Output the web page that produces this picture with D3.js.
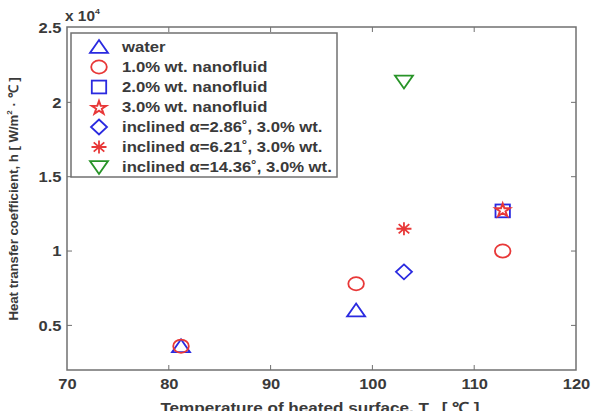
<!DOCTYPE html>
<html lang="en">
<head>
<meta charset="UTF-8">
<title>Heat transfer coefficient</title>
<script src="https://d3js.org/d3.v7.min.js"></script>
<style>
    body { margin: 0; background: #fff; }
    text { font-family: "Liberation Sans", Arial, sans-serif; fill: #3a3a3a; }
</style>
</head>
<body>
<svg width="593" height="411" id="chart"></svg>
<script>
    // data (h in units of 10^4 W/m2.C)
    const seriesNames = ["water", "1.0% wt. nanofluid", "2.0% wt. nanofluid", "3.0% wt. nanofluid",
        "inclined \u03b1=2.86\u02da, 3.0% wt.", "inclined \u03b1=6.21\u02da, 3.0% wt.", "inclined \u03b1=14.36\u02da, 3.0% wt."];
    const waterPts = [[81.2, 0.36], [98.4, 0.60]];
    const wt1Pts = [[81.2, 0.36], [98.4, 0.78], [112.8, 1.0]];
    const wt2Pts = [[112.8, 1.27]];
    const wt3Pts = [[112.8, 1.28]];
    const incl286Pts = [[103.1, 0.86]];
    const incl621Pts = [[103.1, 1.15]];
    const incl1436Pts = [[103.1, 2.14]];
    const xTicks = [70, 80, 90, 100, 110, 120];
    const yTicks = [0.5, 1, 1.5, 2, 2.5];

    const series = [
        {pts: waterPts, shape: "triUp", color: "#2a2ae0"},
        {pts: wt1Pts, shape: "circle", color: "#e83838"},
        {pts: wt2Pts, shape: "square", color: "#2a2ae0"},
        {pts: wt3Pts, shape: "star", color: "#e83838"},
        {pts: incl286Pts, shape: "diamond", color: "#2a2ae0"},
        {pts: incl621Pts, shape: "asterisk", color: "#e83838"},
        {pts: incl1436Pts, shape: "triDown", color: "#289428"}
    ];

    const svg = d3.select("#chart");
    const pLeft = 67, pRight = 576, pTop = 27, pBottom = 370;
    const stretch = 1.1;  // the picture is a bit wider than tall

    const x = d3.scaleLinear().domain([70, 120]).range([pLeft, pRight]);
    const y = d3.scaleLinear().domain([0.2, 2.5]).range([pBottom, pTop + 1]);

    // frame
    svg.append("rect")
        .attr("x", pLeft).attr("y", pTop)
        .attr("width", pRight - pLeft).attr("height", pBottom - pTop)
        .attr("fill", "none").attr("stroke", "#707070").attr("stroke-width", 1.5);

    // axes
    const xAxis = svg.append("g").attr("transform", `translate(0,${pBottom})`)
        .call(d3.axisBottom(x).tickValues(xTicks).tickSize(0).tickPadding(8));
    const yAxis = svg.append("g").attr("transform", `translate(${pLeft},0)`)
        .call(d3.axisLeft(y).tickValues(yTicks).tickSize(0).tickPadding(5).tickFormat(d3.format("")));
    [xAxis, yAxis].forEach(g => {
        g.select(".domain").remove();
        g.selectAll("text").style("font-size", "15px").style("font-weight", "bold")
            .attr("fill", "#3a3a3a").attr("transform", `scale(${stretch},1)`);
    });

    // inner ticks on all four sides
    xTicks.slice(1, -1).forEach(t => {
        svg.append("line").attr("x1", x(t)).attr("x2", x(t)).attr("y1", pBottom).attr("y2", pBottom - 5)
            .attr("stroke", "#707070");
        svg.append("line").attr("x1", x(t)).attr("x2", x(t)).attr("y1", pTop).attr("y2", pTop + 5)
            .attr("stroke", "#707070");
    });
    yTicks.slice(0, -1).forEach(t => {
        svg.append("line").attr("x1", pLeft).attr("x2", pLeft + 5).attr("y1", y(t)).attr("y2", y(t))
            .attr("stroke", "#707070");
        svg.append("line").attr("x1", pRight).attr("x2", pRight - 5).attr("y1", y(t)).attr("y2", y(t))
            .attr("stroke", "#707070");
    });

    // exponent label
    const expo = svg.append("text").attr("transform", `translate(65,21) scale(${stretch},1)`)
        .style("font-size", "14px").style("font-weight", "bold");
    expo.append("tspan").text("x 10");
    expo.append("tspan").attr("dy", -7).style("font-size", "8px").text("4");

    // axis titles
    const yl = svg.append("text")
        .attr("transform", "translate(18,199) rotate(-90)")
        .attr("text-anchor", "middle")
        .style("font-size", "13.2px").style("font-weight", "bold");
    yl.append("tspan").text("Heat transfer coefficient, h [ W/m");
    yl.append("tspan").attr("dy", -6).style("font-size", "8px").text("2");
    yl.append("tspan").attr("dy", 6).text(" \u00b7 \u2103 ]");

    const xl = svg.append("text").attr("transform", `translate(320,413) scale(1.14,1)`)
        .attr("text-anchor", "middle")
        .style("font-size", "15px").style("font-weight", "bold");
    xl.append("tspan").text("Temperature of heated surface, T");
    xl.append("tspan").attr("dy", 4).style("font-size", "9px").text("w");
    xl.append("tspan").attr("dy", -4).text("  [ \u2103 ]");

    // marker drawing (slightly wider than tall, like the reference)
    function drawMarker(g, shape, cx, cy, color) {
        const w = 9, h = 7;
        let el;
        if (shape === "circle") {
            el = g.append("ellipse").attr("cx", cx).attr("cy", cy).attr("rx", 7.8).attr("ry", 6.6);
        } else if (shape === "square") {
            el = g.append("rect").attr("x", cx - 7.2).attr("y", cy - 6.4)
                .attr("width", 14.4).attr("height", 12.8);
        } else if (shape === "triUp") {
            el = g.append("path").attr("d", `M${cx},${cy - h}L${cx + w},${cy + h * 0.85}L${cx - w},${cy + h * 0.85}Z`);
        } else if (shape === "triDown") {
            el = g.append("path").attr("d", `M${cx},${cy + h}L${cx + w},${cy - h * 0.85}L${cx - w},${cy - h * 0.85}Z`);
        } else if (shape === "diamond") {
            el = g.append("path").attr("d", `M${cx},${cy - 7.5}L${cx + 8},${cy}L${cx},${cy + 7.5}L${cx - 8},${cy}Z`);
        } else if (shape === "star") {
            const star = d3.symbol().type(d3.symbolStar).size(55);
            el = g.append("path").attr("d", star()).attr("transform", `translate(${cx},${cy + 1}) scale(1.1,1)`);
        } else if (shape === "asterisk") {
            const rx = 7.5, ry = 6.5;
            let d = "";
            for (let i = 0; i < 4; i++) {
                const a = i * Math.PI / 4;
                d += `M${cx - rx * Math.cos(a)},${cy - ry * Math.sin(a)}L${cx + rx * Math.cos(a)},${cy + ry * Math.sin(a)}`;
            }
            el = g.append("path").attr("d", d);
        }
        el.attr("fill", "none").attr("stroke", color).attr("stroke-width", 1.8);
    }

    const marks = svg.append("g");
    series.forEach(s => {
        s.pts.forEach(p => drawMarker(marks, s.shape, x(p[0]), y(p[1]), s.color));
    });

    // legend
    const lg = svg.append("g");
    lg.append("rect").attr("x", 71).attr("y", 33).attr("width", 266).attr("height", 144)
        .attr("fill", "#fff").attr("stroke", "#707070").attr("stroke-width", 1.5);
    series.forEach((s, i) => {
        const ly = 47 + i * 20;
        drawMarker(lg, s.shape, 99, ly, s.color);
        lg.append("text").attr("transform", `translate(122,${ly + 5}) scale(1.15,1)`)
            .style("font-size", "14.5px").style("font-weight", "bold")
            .text(seriesNames[i]);
    });
</script>
</body>
</html>
